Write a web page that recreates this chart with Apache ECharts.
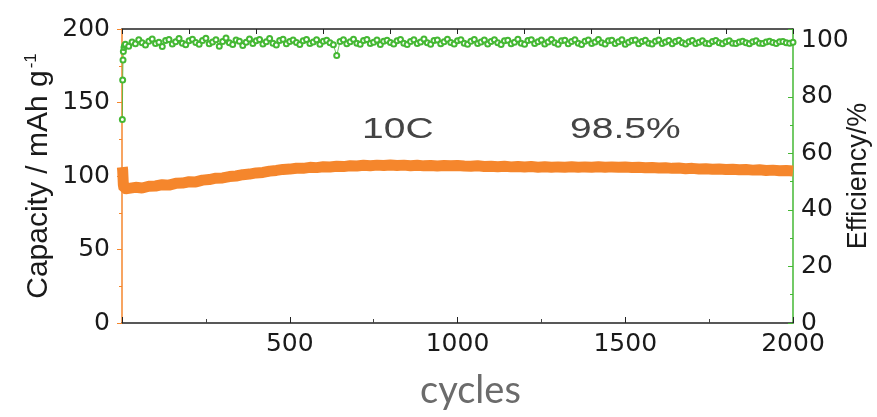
<!DOCTYPE html>
<html>
<head>
<meta charset="utf-8">
<script src="https://cdn.jsdelivr.net/npm/echarts@6/dist/echarts.min.js"></script>
<style>
  html, body { margin: 0; padding: 0; background: #fff; }
  #chart { width: 877px; height: 417px; }
</style>
</head>
<body>
<div id="chart"></div>
<script>
// cycle numbers for the capacity curve
var cycles = [1, 2, 3, 4, 6, 8, 10, 15,
  20, 40, 60, 80, 100, 120, 140, 160, 180, 200,
  220, 240, 260, 280, 300, 320, 340, 360, 380, 400,
  420, 440, 460, 480, 500, 520, 540, 560, 580, 600,
  620, 640, 660, 680, 700, 720, 740, 760, 780, 800,
  820, 840, 860, 880, 900, 920, 940, 960, 980, 1000,
  1020, 1040, 1060, 1080, 1100, 1120, 1140, 1160, 1180, 1200,
  1220, 1240, 1260, 1280, 1300, 1320, 1340, 1360, 1380, 1400,
  1420, 1440, 1460, 1480, 1500, 1520, 1540, 1560, 1580, 1600,
  1620, 1640, 1660, 1680, 1700, 1720, 1740, 1760, 1780, 1800,
  1820, 1840, 1860, 1880, 1900, 1920, 1940, 1960, 1980, 2000];

// discharge capacity, mAh/g
var capacity = [106, 104, 99, 94, 91.5, 91, 91.2, 91.4,
  91.5, 92.3, 91.8, 93.0, 93.2, 94.1, 93.8, 95.0, 95.2, 96.1,
  96.0, 97.2, 97.6, 98.5, 98.7, 99.6, 100.0, 100.9, 101.3, 102.1,
  102.4, 103.3, 103.8, 104.5, 104.7, 105.3, 105.2, 105.9, 105.7, 106.3,
  106.1, 106.6, 106.4, 107.0, 106.8, 107.3, 107.0, 107.4, 107.1, 107.5,
  107.2, 107.4, 107.0, 107.3, 106.9, 107.2, 106.8, 107.1, 106.9, 107.2,
  106.8, 106.6, 107.0, 106.5, 106.7, 106.3, 106.6, 106.2, 106.5, 106.1,
  106.4, 106.0, 106.3, 105.9, 106.2, 106.0, 106.3, 105.9, 106.2, 106.0,
  106.3, 105.9, 106.2, 106.0, 106.1, 105.8, 106.0, 105.6, 105.8, 105.4,
  105.6, 105.2, 105.4, 105.0, 105.2, 104.8, 105.0, 104.6, 104.8, 104.4,
  104.6, 104.2, 104.4, 104.0, 104.2, 103.8, 104.0, 103.6, 103.8, 103.4];

// cycle numbers for the efficiency points
var effCycles = [1, 2, 3, 4, 6, 8,
  10, 20, 30, 40, 50, 60, 70, 80, 90, 100, 110, 120, 130, 140, 150, 160, 170, 180, 190, 200,
  210, 220, 230, 240, 250, 260, 270, 280, 290, 300, 310, 320, 330, 340, 350, 360, 370, 380, 390, 400,
  410, 420, 430, 440, 450, 460, 470, 480, 490, 500, 510, 520, 530, 540, 550, 560, 570, 580, 590, 600,
  610, 620, 630, 640, 650, 660, 670, 680, 690, 700, 710, 720, 730, 740, 750, 760, 770, 780, 790, 800,
  810, 820, 830, 840, 850, 860, 870, 880, 890, 900, 910, 920, 930, 940, 950, 960, 970, 980, 990, 1000,
  1010, 1020, 1030, 1040, 1050, 1060, 1070, 1080, 1090, 1100, 1110, 1120, 1130, 1140, 1150, 1160, 1170, 1180, 1190, 1200,
  1210, 1220, 1230, 1240, 1250, 1260, 1270, 1280, 1290, 1300, 1310, 1320, 1330, 1340, 1350, 1360, 1370, 1380, 1390, 1400,
  1410, 1420, 1430, 1440, 1450, 1460, 1470, 1480, 1490, 1500, 1510, 1520, 1530, 1540, 1550, 1560, 1570, 1580, 1590, 1600,
  1610, 1620, 1630, 1640, 1650, 1660, 1670, 1680, 1690, 1700, 1710, 1720, 1730, 1740, 1750, 1760, 1770, 1780, 1790, 1800,
  1810, 1820, 1830, 1840, 1850, 1860, 1870, 1880, 1890, 1900, 1910, 1920, 1930, 1940, 1950, 1960, 1970, 1980, 1990, 2000];

// coulombic efficiency, %
var efficiency = [72, 86, 93, 96, 97.5, 98.2,
  98.6, 97.9, 99.4, 98.8, 100.2, 99.1, 98.3, 99.7, 100.5, 98.9, 99.3, 97.8, 99.9, 100.3, 98.7, 99.5, 100.6, 99.0, 98.4, 99.8,
  100.4, 99.2, 98.6, 99.9, 100.7, 98.8, 99.4, 100.2, 97.9, 99.6, 100.8, 99.1, 98.5, 100.1, 99.7, 98.2, 99.3, 100.5, 98.9, 99.8,
  100.3, 98.7, 99.5, 100.6, 99.0, 98.3, 99.9, 100.4, 98.8, 99.6, 100.1, 99.2, 98.5, 99.8, 100.3, 98.9, 99.4, 100.2, 98.6, 99.7,
  100.0, 99.1, 98.4, 94.6, 99.6, 100.2, 98.8, 99.5, 100.4, 99.0, 98.6, 99.9, 100.3, 98.9, 99.3, 100.1, 98.5, 99.7, 100.0, 99.2,
  98.7, 99.8, 100.3, 99.0, 98.5, 99.6, 100.2, 98.9, 99.4, 100.5, 99.1, 98.6, 99.9, 100.1, 98.8, 99.5, 100.4, 99.2, 98.7, 99.8,
  100.2, 99.0, 98.6, 99.7, 100.3, 98.9, 99.4, 100.1, 98.7, 99.6, 100.2, 99.1, 98.5, 99.8, 100.0, 98.8, 99.3, 100.4, 99.0, 98.6,
  99.9, 100.2, 98.9, 99.5, 100.1, 98.7, 99.4, 100.3, 99.1, 98.6, 99.8, 100.0, 98.8, 99.6, 100.2, 99.0, 98.5, 99.7, 100.1, 98.9,
  99.4, 100.3, 99.1, 98.7, 99.8, 100.0, 98.9, 99.5, 100.2, 98.6, 99.3, 99.9, 100.1, 98.8, 99.6, 100.0, 99.0, 98.7, 99.7, 100.1,
  98.9, 99.4, 99.9, 98.8, 99.6, 100.0, 99.1, 98.7, 99.5, 99.9, 98.9, 99.3, 99.8, 99.0, 98.8, 99.6, 99.9, 99.1, 98.8, 99.5,
  99.8, 99.0, 98.9, 99.4, 99.7, 99.1, 98.8, 99.5, 99.8, 99.0, 98.9, 99.4, 99.7, 99.2, 98.9, 99.5, 99.6, 99.1, 99.0, 99.3];

var orange = "#f5862c";
var green = "#45b834";

var capData = [];
cycles.forEach(function (c, i) {
  capData.push([c, capacity[i]]);
});
var effData = [];
effCycles.forEach(function (c, i) {
  effData.push([c, efficiency[i]]);
});

var chartDom = document.getElementById("chart");
var myChart = echarts.init(chartDom);
var option;

var tickFont = { fontFamily: "DejaVu Sans", fontSize: 25, color: "#1a1a1a" };

option = {
  animation: false,
  grid: { left: 122, right: 84, top: 29, bottom: 94, outerBoundsMode: "none", containLabel: false },
  xAxis: [
    {
      type: "value",
      min: 0,
      max: 2000,
      interval: 500,
      position: "bottom",
      splitLine: { show: false },
      axisLine: { onZero: false, lineStyle: { color: "#222", width: 1.5 } },
      axisTick: { inside: true, length: 6, lineStyle: { color: "#222" } },
      minorTick: { show: true, splitNumber: 2, length: 4, lineStyle: { color: "#444" } },
      axisLabel: Object.assign({
        margin: 9,
        showMinLabel: false,
        formatter: function (v) { return String(v); }
      }, tickFont)
    },
    {
      type: "value",
      min: 0,
      max: 2000,
      interval: 200,
      position: "top",
      splitLine: { show: false },
      axisLine: { onZero: false, lineStyle: { color: "#222", width: 1.5 } },
      axisTick: { inside: true, length: 5, lineStyle: { color: "#222" } },
      axisLabel: { show: false }
    }
  ],
  yAxis: [
    {
      type: "value",
      min: 0,
      max: 200,
      interval: 50,
      position: "left",
      splitLine: { show: false },
      axisLine: { show: true, onZero: false, lineStyle: { color: orange, width: 1.5 } },
      axisTick: { show: true, length: 5, lineStyle: { color: orange } },
      minorTick: { show: true, splitNumber: 2, length: 3, lineStyle: { color: orange } },
      axisLabel: Object.assign({ margin: 12 }, tickFont),
      name: "{a|Capacity / mAh g}{s|-1}",
      nameLocation: "middle",
      nameRotate: 90,
      nameGap: 68,
      nameMoveOverlap: false,
      nameTextStyle: {
        rich: {
          a: { fontFamily: "Liberation Sans", fontSize: 30, color: "#1a1a1a" },
          s: { fontFamily: "Liberation Sans", fontSize: 17, color: "#1a1a1a", verticalAlign: "top", padding: [0, 0, 14, 2] }
        }
      }
    },
    {
      type: "value",
      min: 0,
      max: 104,
      interval: 20,
      position: "right",
      splitLine: { show: false },
      axisLine: { show: true, onZero: false, lineStyle: { color: green, width: 1.5 } },
      axisTick: { show: true, inside: true, length: 5, lineStyle: { color: green } },
      minorTick: { show: true, splitNumber: 2, length: 3, lineStyle: { color: green } },
      axisLabel: Object.assign({ margin: 8, showMaxLabel: false }, tickFont),
      name: "Efficiency/%",
      nameLocation: "middle",
      nameRotate: 90,
      nameGap: 52,
      nameMoveOverlap: false,
      nameTextStyle: { fontFamily: "Liberation Sans", fontSize: 27, color: "#1a1a1a" }
    }
  ],
  graphic: [
    {
      type: "text", left: 362, top: 115, scaleX: 1.3,
      style: { text: "10C", font: "30px 'Liberation Sans'", fill: "#444" }
    },
    {
      type: "text", left: 570, top: 115, scaleX: 1.3,
      style: { text: "98.5%", font: "30px 'Liberation Sans'", fill: "#444" }
    },
    {
      type: "text", left: 420, top: 372,
      style: { text: "cycles", font: "38px Lato", fill: "#6b6b6b" }
    }
  ],
  series: [
    {
      name: "Capacity",
      type: "line",
      xAxisIndex: 0,
      yAxisIndex: 0,
      data: capData,
      showSymbol: false,
      lineStyle: { color: orange, width: 11 },
      itemStyle: { color: orange },
      z: 2
    },
    {
      name: "Efficiency",
      type: "line",
      xAxisIndex: 0,
      yAxisIndex: 1,
      data: effData,
      symbol: "emptyCircle",
      symbolSize: 5,
      showAllSymbol: true,
      lineStyle: { color: green, width: 0.8 },
      itemStyle: { color: green, borderWidth: 1.2 },
      z: 3
    }
  ]
};
option && myChart.setOption(option);
</script>
</body>
</html>
